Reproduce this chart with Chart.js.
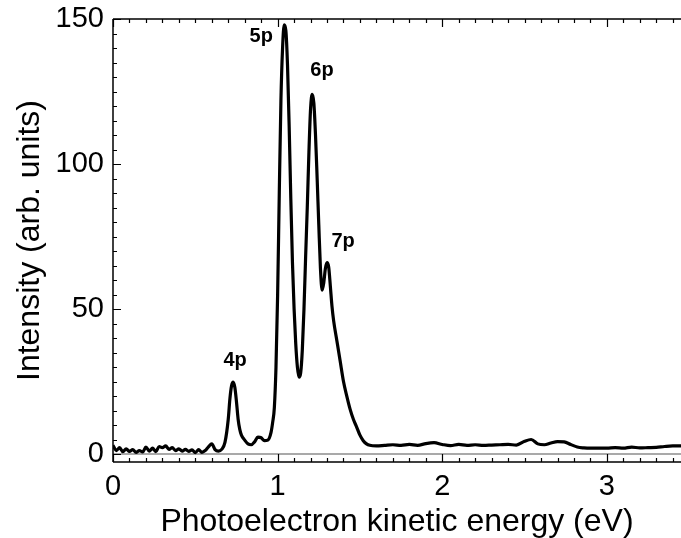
<!DOCTYPE html>
<html>
<head>
<meta charset="utf-8">
<script src="https://cdn.jsdelivr.net/npm/chart.js@4"></script>
<style>
  html,body{margin:0;padding:0;background:#fff}
  #wrap{width:681px;height:538px}
</style>
</head>
<body>
<div id="wrap"><canvas id="ch-pes" width="681" height="538"></canvas></div>
<script>
/* photoelectron spectrum: energy (eV) vs intensity */
const energy=[
  0,0.02,0.04,0.06,0.08,0.10,0.12,0.14,0.16,0.18,0.20,0.22,0.24,0.26,0.28,0.30,0.32,0.34,0.36,0.38,
  0.40,0.42,0.44,0.46,0.48,0.50,0.52,0.54,0.56,0.58,0.60,0.62,0.64,0.66,0.68,0.70,0.71,0.72,0.73,0.74,
  0.75,0.76,0.77,0.78,0.80,0.82,0.84,0.86,0.88,0.90,0.92,0.94,0.96,0.97,0.98,0.99,1.00,1.01,1.02,1.03,
  1.04,1.05,1.06,1.07,1.08,1.09,1.10,1.11,1.12,1.13,1.14,1.15,1.16,1.17,1.18,1.19,1.20,1.21,1.22,1.23,
  1.24,1.25,1.26,1.27,1.28,1.29,1.30,1.31,1.32,1.33,1.34,1.36,1.38,1.40,1.42,1.44,1.46,1.48,1.50,1.52,
  1.54,1.56,1.60,1.65,1.70,1.75,1.80,1.85,1.90,1.95,2.00,2.05,2.10,2.15,2.20,2.25,2.30,2.35,2.40,2.45,
  2.50,2.54,2.58,2.62,2.66,2.70,2.74,2.78,2.82,2.86,2.90,2.95,3.00,3.05,3.10,3.15,3.20,3.25,3.30,3.35,
  3.40,3.45
];
const intensity=[
  3.0,1.2,2.2,0.8,1.8,0.9,1.5,0.6,1.2,0.7,2.4,1.0,2.0,0.8,2.6,2.2,2.8,1.6,2.2,1.2,
  1.8,1.0,1.6,0.9,1.4,0.5,1.5,0.6,1.2,2.5,3.5,1.5,1.0,1.6,4.0,12,19,23.5,24.8,23,
  18,12,8.5,6.5,4.8,3.5,3.2,4.2,5.8,5.6,4.6,4.8,7.5,11,16,30,55,90,122,140,
  148,146,134,113,88,66,50,38,30,26.5,28,36,50,68,85,104,119,124,121,110,
  95,79,64,56.5,59,64,66,64.5,58,51,46,39,32,25,20,15.5,12,9.3,6.5,4.6,
  3.5,3.0,2.8,3.0,3.2,3.0,3.3,3.0,3.6,3.9,3.3,2.9,3.3,3.0,3.2,3.0,3.1,3.2,3.3,3.1,
  4.4,5.0,3.5,3.2,3.8,4.3,4.2,3.3,2.4,2.1,2.0,2.0,2.0,2.2,2.0,2.4,2.1,2.2,2.3,2.6,
  2.8,2.8
];
const xTicks=[0,1,2,3];
const yTicks=[0,50,100,150];
const peakNames=['4p','5p','6p','7p'];
const peakNameX=[0.742,0.90,1.269,1.398];
const peakNameY=[32.4,143.9,132.4,73.2];

const FONT='"Liberation Sans", Arial, sans-serif';

const framePlugin={
  id:'frame',
  beforeDatasetsDraw(chart){
    const {ctx,chartArea:a,scales:{y}}=chart;
    const y0=y.getPixelForValue(0);
    ctx.save();
    ctx.strokeStyle='#8c8c8c';ctx.lineWidth=1.5;
    ctx.beginPath();ctx.moveTo(a.left,y0);ctx.lineTo(a.right,y0);ctx.stroke();
    ctx.restore();
  },
  afterDatasetsDraw(chart){
    const {ctx,chartArea:a,scales:{x,y}}=chart;
    ctx.save();
    ctx.strokeStyle='#000';ctx.lineWidth=1.5;
    ctx.beginPath();
    ctx.moveTo(a.left,a.top);ctx.lineTo(a.right,a.top);
    ctx.moveTo(a.left,a.top);ctx.lineTo(a.left,a.bottom);
    ctx.moveTo(a.left,a.bottom);ctx.lineTo(a.right,a.bottom);
    ctx.stroke();
    ctx.lineWidth=1.2;
    ctx.beginPath();
    for(let i=0;i<=34;i++){
      const px=Math.round(x.getPixelForValue(i/10))+0.5;
      const len=i%10===0?8:4;
      ctx.moveTo(px,a.bottom);ctx.lineTo(px,a.bottom-len);
      ctx.moveTo(px,a.top);ctx.lineTo(px,a.top+len);
    }
    for(let v=0;v<=150;v+=5){
      const py=Math.round(y.getPixelForValue(v))+0.5;
      const len=v%50===0?8:4;
      ctx.moveTo(a.left,py);ctx.lineTo(a.left+len,py);
    }
    ctx.stroke();
    // peak labels
    ctx.fillStyle='#000';ctx.font='bold 20px '+FONT;
    ctx.textAlign='center';ctx.textBaseline='middle';
    peakNames.forEach((n,i)=>ctx.fillText(n,x.getPixelForValue(peakNameX[i]),y.getPixelForValue(peakNameY[i])));
    // axis titles
    ctx.font='32px '+FONT;
    ctx.textBaseline='alphabetic';
    ctx.fillText('Photoelectron kinetic energy (eV)',(a.left+a.right)/2,531);
    ctx.translate(39,(a.top+a.bottom)/2);
    ctx.rotate(-Math.PI/2);
    ctx.fillText('Intensity (arb. units)',0,0);
    ctx.restore();
  }
};

new Chart(document.getElementById('ch-pes'),{
  type:'line',
  data:{datasets:[{
    data:energy.map((e,i)=>({x:e,y:intensity[i]})),
    borderColor:'#000',borderWidth:3.2,pointRadius:0,fill:false,
    cubicInterpolationMode:'monotone',borderJoinStyle:'round'
  }]},
  options:{
    responsive:false,animation:false,
    layout:{padding:{top:19,right:0,left:0,bottom:0}},
    plugins:{legend:{display:false},tooltip:{enabled:false}},
    scales:{
      x:{type:'linear',min:0,max:3.45,
        afterBuildTicks:s=>{s.ticks=xTicks.map(v=>({value:v}));},
        afterFit:s=>{s.height=76;s.paddingLeft=0;s.paddingRight=0;},
        grid:{display:false,drawTicks:false},border:{display:false},
        ticks:{color:'#000',padding:8,maxRotation:0,font:{family:FONT,size:29}}},
      y:{type:'linear',min:-2.75,max:150,
        afterBuildTicks:s=>{s.ticks=yTicks.map(v=>({value:v}));},
        afterFit:s=>{s.width=113;s.paddingTop=0;s.paddingBottom=0;},
        grid:{display:false,drawTicks:false},border:{display:false},
        ticks:{color:'#000',padding:9,font:{family:FONT,size:29}}}
    }
  },
  plugins:[framePlugin]
});
</script>
</body>
</html>
